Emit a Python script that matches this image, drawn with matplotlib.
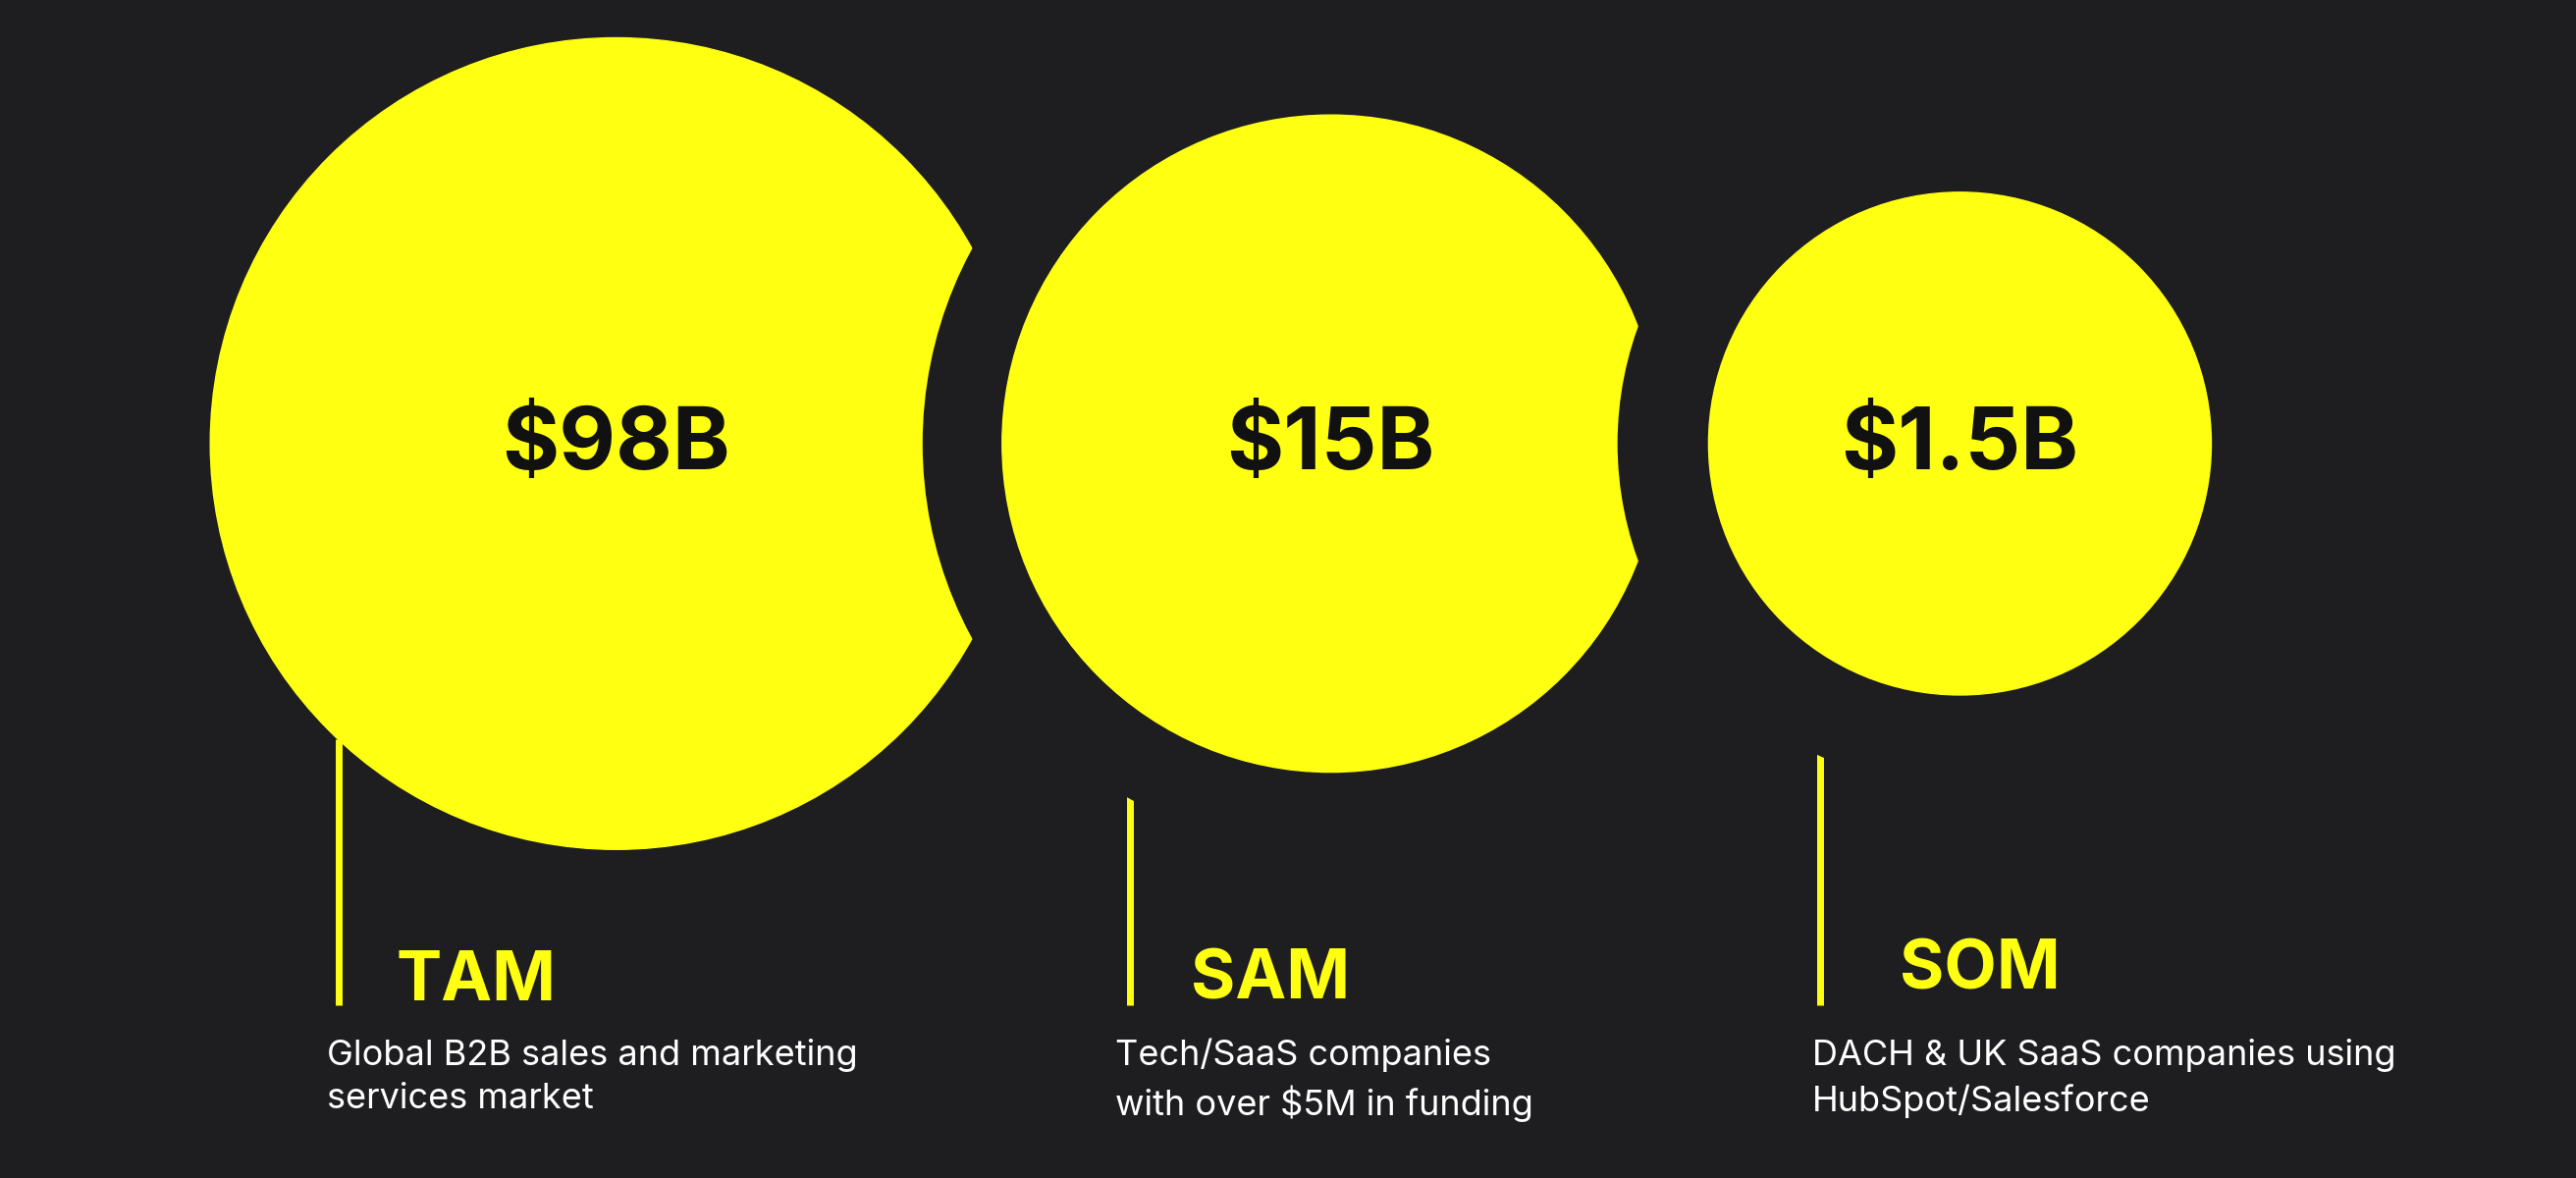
import matplotlib
matplotlib.use("Agg")
import matplotlib.pyplot as plt
from matplotlib.patches import Circle

labels = ["TAM", "SAM", "SOM"]
values = ["$98B", "$15B", "$1.5B"]
descs = ["Global B2B sales and marketing\nservices market",
         "Tech/SaaS companies\nwith over $5M in funding",
         "DACH & UK SaaS companies using\nHubSpot/Salesforce"]
centers_x = [375, 810, 1193]
radii = [247, 200, 153]
gaps = [0, 48, 55]
line_x = [206, 688, 1108]
line_top = [450, 425, 397]
label_x = [241, 725, 1156]
label_y = [598, 597, 591]
desc_x = [199, 679, 1103]

BG = "#1e1d20"
YEL = "#ffff12"
plt.rcParams['font.family'] = ['Inter', 'DejaVu Sans']

fig = plt.figure(figsize=(26.24, 12), dpi=100, facecolor=BG)
ax = fig.add_axes([0, 0, 1, 1])
ax.set_facecolor(BG)
ax.set_xlim(0, 1568)
ax.set_ylim(717, 0)
ax.axis("off")

cy = 270
for i in range(3):
    if gaps[i]:
        ax.add_patch(Circle((centers_x[i], cy), radii[i] + gaps[i], color=BG, zorder=2 + 2 * i - 1))
    ax.add_patch(Circle((centers_x[i], cy), radii[i], color=YEL, zorder=2 + 2 * i))
    ax.text(centers_x[i], cy + 2, values[i], ha="center", va="center", fontsize=64,
            fontweight="bold", color="#111111", zorder=20)
    ax.plot([line_x[i], line_x[i]], [line_top[i], 612], color=YEL, lw=5, zorder=1, solid_capstyle="butt")
    ax.text(label_x[i], label_y[i], labels[i], ha="left", va="center", fontsize=50,
            fontweight="bold", color=YEL, zorder=20)
    ax.text(desc_x[i], 632, descs[i], ha="left", va="top", fontsize=26, color="white",
            linespacing=1.45, zorder=20)

fig.savefig("out.png", dpi=100, facecolor=BG)
